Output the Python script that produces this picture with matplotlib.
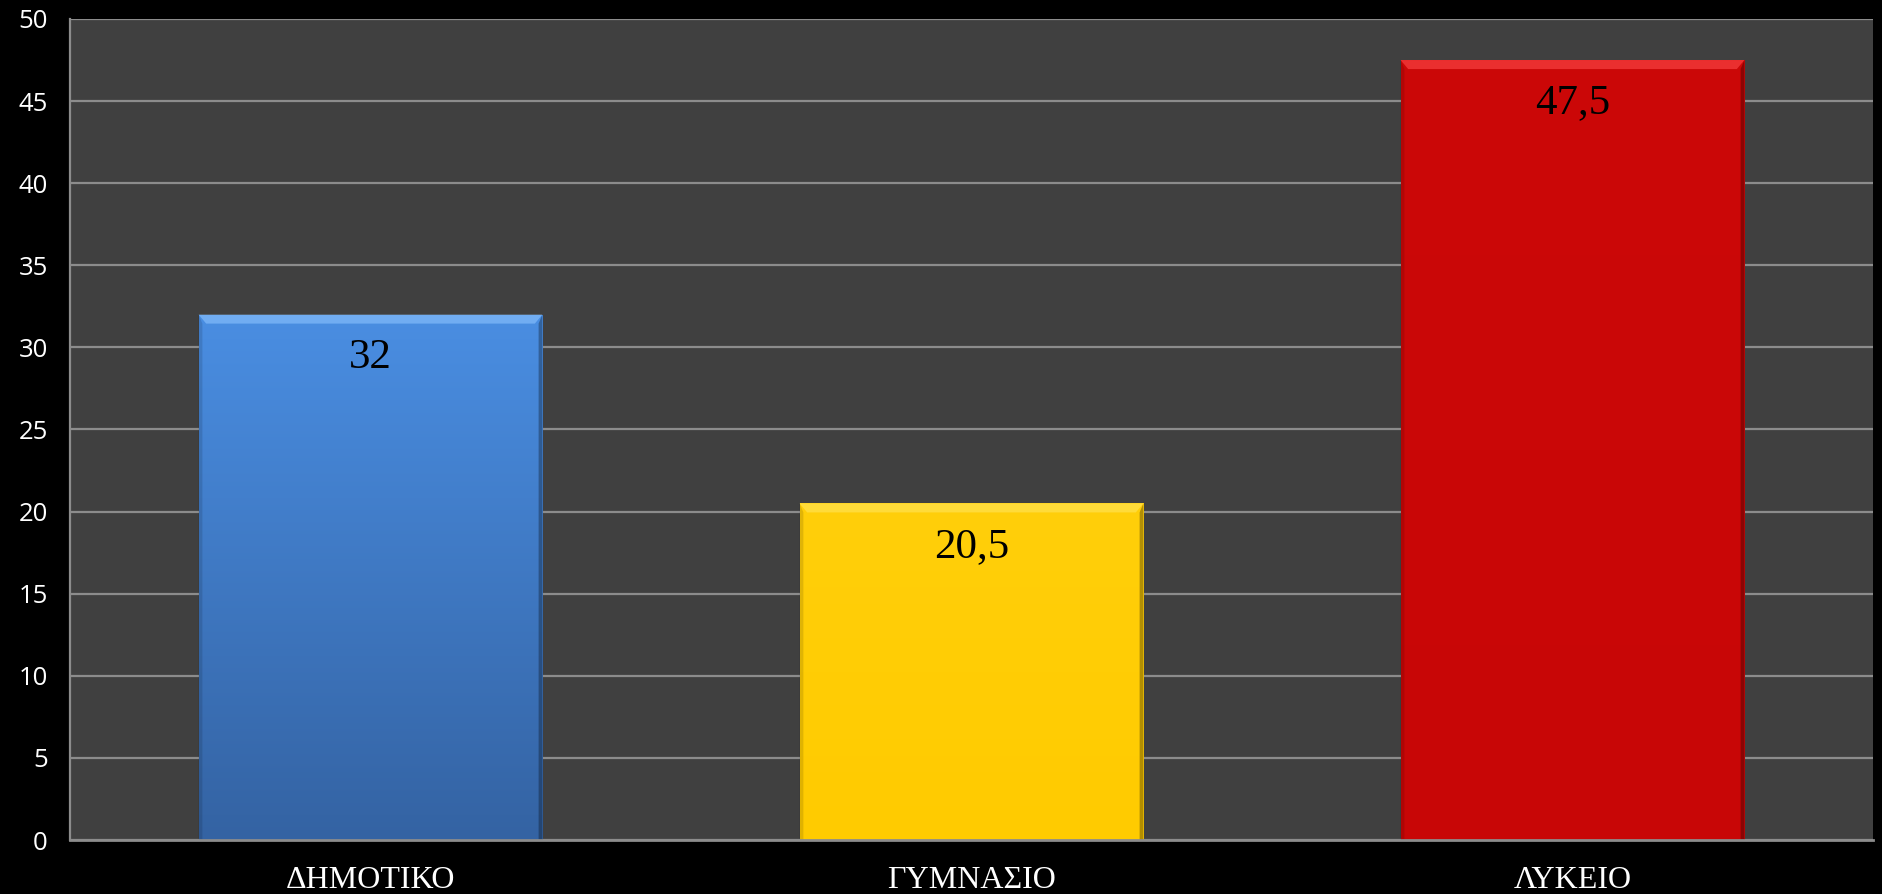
import matplotlib
matplotlib.use("Agg")
import matplotlib.pyplot as plt
import numpy as np
from matplotlib.colors import LinearSegmentedColormap
from matplotlib.patches import Polygon

categories = ["ΔΗΜΟΤΙΚΟ", "ΓΥΜΝΑΣΙΟ", "ΛΥΚΕΙΟ"]
values = [32, 20.5, 47.5]
value_labels = ["32", "20,5", "47,5"]
top_colors = ["#4a8ee2", "#ffcf0a", "#cc0808"]
bottom_colors = ["#3463a3", "#ffcb00", "#c80606"]
bevel_colors = ["#8cc4ff", "#ffe45a", "#ff4a4a"]
yticks = [0, 5, 10, 15, 20, 25, 30, 35, 40, 45, 50]

W, H = 1883, 894
fig = plt.figure(figsize=(W / 100, H / 100), dpi=100, facecolor="black")
ax = fig.add_axes([70 / W, 1 - 840 / H, (1873 - 70) / W, (840 - 19) / H])
ax.set_facecolor("#404040")

x = np.arange(len(categories))
bars = ax.bar(x, values, width=0.572, color=top_colors, zorder=3)
ax.set_xlim(-0.5, len(categories) - 0.5)
ax.set_ylim(0, 50)
ax.set_yticks(yticks)
ax.yaxis.grid(True, color="#8c8c8c", linewidth=1.6, zorder=1)
ax.set_axisbelow(True)

# gradient fill + bevel
for b, c1, c2, cb in zip(bars, top_colors, bottom_colors, bevel_colors):
    x0, w, h = b.get_x(), b.get_width(), b.get_height()
    cmap = LinearSegmentedColormap.from_list("g", [c2, c1])
    grad = np.linspace(0, 1, 256).reshape(-1, 1)
    im = ax.imshow(grad, extent=(x0, x0 + w, 0, h), origin="lower", cmap=cmap,
                   aspect="auto", zorder=3.1)
    im.set_clip_path(b)
    b.set_facecolor("none")
    b.set_edgecolor("none")
    # bevel top band
    dx = w * 0.022
    dy = 50 * 0.011
    top = Polygon([[x0, h], [x0 + w, h], [x0 + w - dx, h - dy], [x0 + dx, h - dy]],
                  closed=True, facecolor=cb, edgecolor="none", alpha=0.6, zorder=3.2)
    ax.add_patch(top)
    # side darkening
    left = Polygon([[x0, h], [x0 + dx * 0.5, h - dy], [x0 + dx * 0.5, 0], [x0, 0]],
                   closed=True, facecolor="black", alpha=0.12, zorder=3.2, edgecolor="none")
    right = Polygon([[x0 + w, h], [x0 + w - dx * 0.5, h - dy], [x0 + w - dx * 0.5, 0], [x0 + w, 0]],
                    closed=True, facecolor="black", alpha=0.3, zorder=3.2, edgecolor="none")
    ax.add_patch(left)
    ax.add_patch(right)

for xi, v, lab in zip(x, values, value_labels):
    ax.annotate(lab, (xi, v), xytext=(0, -31), textcoords="offset points",
                ha="center", va="center", fontsize=31, color="black",
                family=["Liberation Serif", "DejaVu Serif"], zorder=5)

ax.set_xticks(x)
ax.set_xticklabels(categories, family=["Liberation Serif", "DejaVu Serif"],
                   fontsize=23, color="white")
ax.tick_params(axis="x", length=0, pad=19)
ax.tick_params(axis="y", length=0, pad=16, labelsize=18.5, labelcolor="white")
for lbl in ax.get_yticklabels():
    lbl.set_family(["Open Sans", "DejaVu Sans"])
    lbl.set_horizontalalignment("right")

for s in ["top", "right"]:
    ax.spines[s].set_visible(False)
ax.spines["left"].set_color("#8c8c8c")
ax.spines["left"].set_linewidth(1.6)
ax.spines["bottom"].set_color("#8c8c8c")
ax.spines["bottom"].set_linewidth(2)
ax.spines["bottom"].set_zorder(4)

fig.savefig("out.png", dpi=100, facecolor="black")
